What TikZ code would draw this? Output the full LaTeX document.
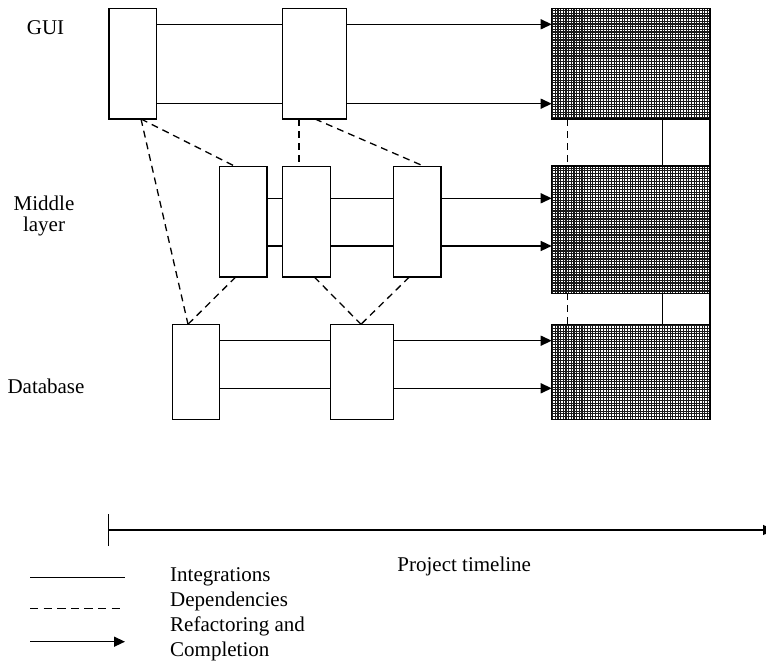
\documentclass[tikz,border=0pt]{standalone}
\usepackage{fontspec}
\setmainfont{Liberation Serif}
\usetikzlibrary{arrows.meta}

\tikzset{
  blk/.style={draw, fill=white, line width=1.4pt, inner sep=0pt, outer sep=0pt},
  gridbox/.style={line width=1.4pt, inner sep=0pt, outer sep=0pt},
  integ/.style={line width=1.4pt},
  dep/.style={line width=1.3pt, dash pattern=on 7pt off 5pt},
  refac/.style={line width=1.4pt, -{Triangle[length=11pt,width=10pt]}},
  lbl/.style={font=\fontsize{21}{24}\selectfont, inner sep=0pt},
}

\begin{document}
\begin{tikzpicture}[x=1pt, y=-1pt]
\useasboundingbox (0,0) rectangle (766,661);
\clip (0,0) rectangle (766,661);

% lane heights for the connectors of each layer
\coordinate (gT) at (0,24.3);
\coordinate (gB) at (0,103.7);
\coordinate (mT) at (0,198.3);
\coordinate (mB) at (0,246);
\coordinate (dT) at (0,340.7);
\coordinate (dB) at (0,388.3);

% layer names
\node[lbl, anchor=base] (gui) at (45.5,35) {GUI};
\node[lbl, anchor=base] (mid1) at (44,210) {Middle};
\node[lbl, anchor=base] (mid2) at (44,231) {layer};
\node[lbl, anchor=base] (db) at (46,393) {Database};

% GUI components
\node[blk, minimum width=47.5, minimum height=110.3] (A1) at (132.75,63.85) {};
\node[blk, minimum width=63.6, minimum height=110.3] (A2) at (314.5,63.85) {};
% middle layer components
\node[blk, minimum width=47.3, minimum height=110.3] (B1) at (243.35,221.85) {};
\node[blk, minimum width=47.6, minimum height=110.3] (B2) at (306.5,221.85) {};
\node[blk, minimum width=47.3, minimum height=110.3] (B3) at (417.35,221.85) {};
% database components
\node[blk, minimum width=47.4, minimum height=95] (C1) at (196,371.8) {};
\node[blk, minimum width=63.4, minimum height=95] (C2) at (362,371.8) {};

% completed layers (cross-hatched)
\node[gridbox, minimum width=158.3, minimum height=110.5] (G1) at (630.85,63.75) {};
\node[gridbox, minimum width=158.3, minimum height=127.3] (G2) at (630.85,229.65) {};
\node[gridbox, minimum width=158.3, minimum height=95] (G3) at (630.85,371.8) {};
\foreach \g in {G1,G2,G3}{
  \fill[white] (\g.south west) rectangle (\g.north east);
  \begin{scope}
    \clip (\g.south west) rectangle (\g.north east);
    \draw[black!90, line width=1.15pt, step=2.67pt] (\g.south west) grid (\g.north east);
  \end{scope}
  \draw[line width=1.4pt] (\g.south west) rectangle (\g.north east);
}

% links between the completed layers
\draw[dep] ([xshift=15.6]G1.south west) -- ([xshift=15.6]G2.north west);
\draw[integ] ([xshift=-47.7]G1.south east) -- ([xshift=-47.7]G2.north east);
\draw[integ] (G1.south east) -- (G2.north east);
\draw[dep] ([xshift=15.6]G2.south west) -- ([xshift=15.6]G3.north west);
\draw[integ] ([xshift=-47.7]G2.south east) -- ([xshift=-47.7]G3.north east);
\draw[integ] (G2.south east) -- (G3.north east);

% integrations
\draw[integ] (A1.east |- gT) -- (A2.west |- gT);
\draw[integ] (A1.east |- gB) -- (A2.west |- gB);
\draw[integ] (B1.east |- mT) -- (B2.west |- mT);
\draw[integ] (B1.east |- mB) -- (B2.west |- mB);
\draw[integ] (B2.east |- mT) -- (B3.west |- mT);
\draw[integ] (B2.east |- mB) -- (B3.west |- mB);
\draw[integ] (C1.east |- dT) -- (C2.west |- dT);
\draw[integ] (C1.east |- dB) -- (C2.west |- dB);

% refactoring and completion
\draw[refac] (A2.east |- gT) -- (G1.west |- gT);
\draw[refac] (A2.east |- gB) -- (G1.west |- gB);
\draw[refac] (B3.east |- mT) -- (G2.west |- mT);
\draw[refac] (B3.east |- mB) -- (G2.west |- mB);
\draw[refac] (C2.east |- dT) -- (G3.west |- dT);
\draw[refac] (C2.east |- dB) -- (G3.west |- dB);

% dependencies
\draw[dep] ([xshift=8.25]A1.south) -- ([xshift=-7.65]B1.north);
\draw[dep] ([xshift=8.25]A1.south) -- ([xshift=-8]C1.north);
\draw[dep] ([xshift=-15.5]A2.south) -- ([xshift=-7.5]B2.north);
\draw[dep] ([xshift=0.5]A2.south) -- ([xshift=7.65]B3.north);
\draw[dep] ([xshift=-7.65]B1.south) -- ([xshift=-8]C1.north);
\draw[dep] ([xshift=7.8]B2.south) -- ([xshift=-1]C2.north);
\draw[dep] ([xshift=-8]B3.south) -- ([xshift=-1]C2.north);

% project timeline
\coordinate (t0) at (108.7,530);
\coordinate (t1) at (774,530);
\draw[line width=1.4pt] ([yshift=-16]t0) -- ([yshift=16]t0);
\draw[refac] (t0) -- (t1);
\node[lbl, anchor=base] (tl) at (464.2,571.7) {Project timeline};

% legend
\coordinate (l1a) at (30,577.7);  \coordinate (l1b) at (125,577.7);
\coordinate (l2a) at (30,608.3);  \coordinate (l2b) at (125,608.3);
\coordinate (l3a) at (30,641.7);  \coordinate (l3b) at (125,641.7);
\draw[integ] (l1a) -- (l1b);
\draw[line width=1.3pt, dash pattern=on 8.3pt off 5.3pt] (l2a) -- (l2b);
\draw[refac] (l3a) -- (l3b);
\node[lbl, anchor=base west] (lg1) at (170,581.7) {Integrations};
\node[lbl, anchor=base west] (lg2) at (170,606.5) {Dependencies};
\node[lbl, anchor=base west] (lg3) at (170,631.7) {Refactoring and};
\node[lbl, anchor=base west] (lg4) at (170,656.7) {Completion};
\end{tikzpicture}
\end{document}
